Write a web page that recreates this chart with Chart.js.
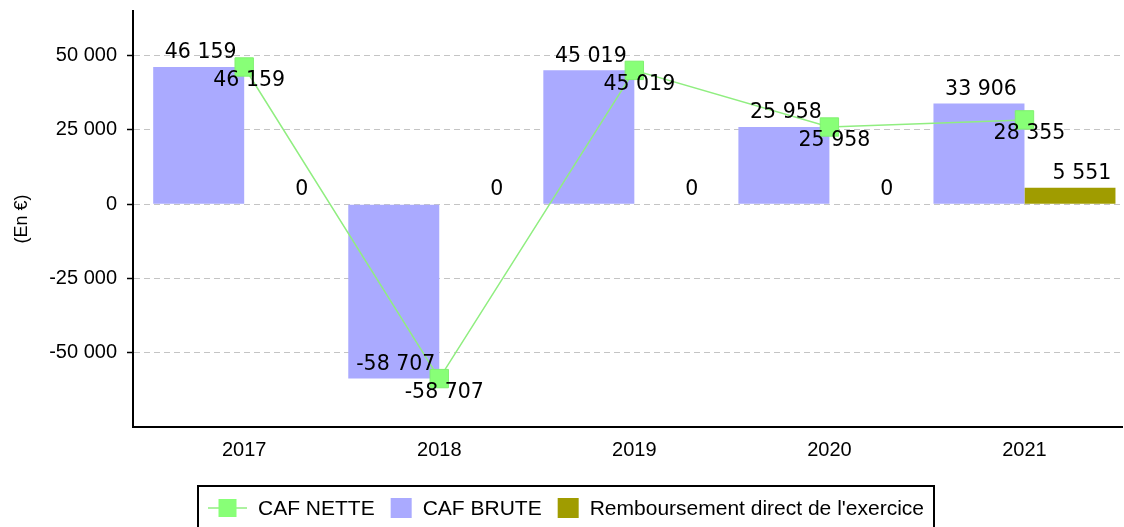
<!DOCTYPE html>
<html lang="fr">
<head>
<meta charset="utf-8">
<title>CAF</title>
<script src="https://cdn.jsdelivr.net/npm/chart.js@4.4.1/dist/chart.umd.min.js"></script>
<style>
  html, body { margin: 0; padding: 0; background: #fff; }
  canvas { display: block; }
</style>
</head>
<body>
<canvas id="cafChart" width="1124" height="527"></canvas>
<script>
// Values
const years = ['2017', '2018', '2019', '2020', '2021'];
const cafNette = [46159, -58707, 45019, 25958, 28355];
const cafBrute = [46159, -58707, 45019, 25958, 33906];
const remboursement = [0, 0, 0, 0, 5551];
const yTicks = [-50000, -25000, 0, 25000, 50000];
const yMin = -75000;
const yMax = 65000;

const tickFont = '"Liberation Sans", Arial, sans-serif';
const labelFont = '"DejaVu Sans", sans-serif';

// "50 000" style numbers
function fmt(v) {
    const s = Math.abs(Math.round(v)).toString().replace(/\B(?=(\d{3})+(?!\d))/g, ' ');
    return (v < 0 ? '-' : '') + s;
}

// Value labels next to bars and points
const valueLabels = {
    id: 'valueLabels',
    afterDatasetsDraw(chart) {
        const ctx = chart.ctx;
        ctx.save();
        ctx.font = '20.5px ' + labelFont;
        ctx.fillStyle = '#000';
        ctx.textAlign = 'center';
        ctx.textBaseline = 'middle';
        chart.data.datasets.forEach((ds, i) => {
            const meta = chart.getDatasetMeta(i);
            const [dx, dy] = ds.labelOffset;
            meta.data.forEach((el, j) => {
                ctx.fillText(fmt(ds.data[j]), el.x + dx, el.y + dy);
            });
        });
        ctx.restore();
    }
};

// Legend in a black frame, line icon for the line series
const boxedLegend = {
    id: 'boxedLegend',
    afterDraw(chart) {
        const ctx = chart.ctx;
        const datasets = chart.data.datasets;
        ctx.save();
        ctx.font = '21px ' + tickFont;
        const items = datasets.map(ds => ({
            ds: ds,
            iconW: ds.type === 'line' ? 39 : 21,
            textW: ctx.measureText(ds.label).width
        }));
        const gapIcon = 11, gapItem = 16, pad = 10;
        let contentW = gapItem * (items.length - 1);
        items.forEach(it => { contentW += it.iconW + gapIcon + it.textW; });
        const boxW = contentW + pad * 2;
        const left = (chart.width - boxW) / 2 + 4;
        const top = chart.height - 41;
        const cy = top + 22;

        ctx.strokeStyle = '#000';
        ctx.lineWidth = 2;
        ctx.strokeRect(left, top, boxW, 60);

        let x = left + pad;
        items.forEach(it => {
            const ds = it.ds;
            if (ds.type === 'line') {
                ctx.strokeStyle = ds.borderColor;
                ctx.lineWidth = 1.5;
                ctx.beginPath();
                ctx.moveTo(x, cy);
                ctx.lineTo(x + it.iconW, cy);
                ctx.stroke();
                ctx.fillStyle = ds.pointBackgroundColor;
                ctx.fillRect(x + it.iconW / 2 - 9, cy - 9, 18, 18);
            } else {
                ctx.fillStyle = ds.backgroundColor;
                ctx.fillRect(x, cy - 10, it.iconW, 20);
            }
            x += it.iconW + gapIcon;
            ctx.fillStyle = '#000';
            ctx.textAlign = 'left';
            ctx.textBaseline = 'middle';
            ctx.fillText(ds.label, x, cy + 1);
            x += it.textW + gapItem;
        });
        ctx.restore();
    }
};

Chart.defaults.font.family = tickFont;
Chart.defaults.color = '#000';

const ctx = document.getElementById('cafChart').getContext('2d');
new Chart(ctx, {
    type: 'bar',
    data: {
        labels: years,
        datasets: [
            {
                type: 'line',
                label: 'CAF NETTE',
                data: cafNette,
                borderColor: '#90ee80',
                borderWidth: 1.5,
                pointStyle: 'rect',
                pointRadius: 13,
                pointBackgroundColor: '#88ff77',
                pointBorderColor: '#80f070',
                pointBorderWidth: 1,
                tension: 0,
                fill: false,
                labelOffset: [5, 14]
            },
            {
                label: 'CAF BRUTE',
                data: cafBrute,
                backgroundColor: '#aaaaff',
                borderWidth: 0,
                categoryPercentage: 0.933,
                barPercentage: 1,
                labelOffset: [2, -14]
            },
            {
                label: "Remboursement direct de l'exercice",
                data: remboursement,
                backgroundColor: '#a09c00',
                borderWidth: 0,
                categoryPercentage: 0.933,
                barPercentage: 1,
                labelOffset: [12, -14]
            }
        ]
    },
    options: {
        responsive: false,
        animation: false,
        layout: { autoPadding: false, padding: { top: 11, right: 2, bottom: 60, left: 0 } },
        plugins: {
            legend: { display: false },
            tooltip: { enabled: false }
        },
        scales: {
            x: {
                type: 'linear',
                offset: false,
                min: +years[0] - 0.57,
                max: +years[years.length - 1] + 0.5,
                afterBuildTicks: scale => {
                    scale.ticks = years.map(y => ({ value: +y }));
                },
                afterFit: scale => {
                    scale.height = 40;
                    scale.paddingLeft = 0;
                    scale.paddingRight = 0;
                },
                grid: { display: false, drawTicks: false },
                border: { display: true, color: '#000', width: 2 },
                ticks: {
                    padding: 11,
                    font: { size: 20 },
                    color: '#000',
                    callback: v => String(v)
                }
            },
            y: {
                min: yMin,
                max: yMax,
                afterBuildTicks: scale => {
                    scale.ticks = yTicks.map(v => ({ value: v }));
                },
                afterFit: scale => {
                    scale.width = 133;
                    scale.paddingTop = 0;
                    scale.paddingBottom = 0;
                },
                grid: {
                    color: '#c4c4c4',
                    lineWidth: 1,
                    drawTicks: true,
                    tickLength: 6,
                    tickColor: '#000',
                    tickWidth: 1.5,
                    tickBorderDash: []
                },
                border: { display: true, color: '#000', width: 2, dash: [6, 4] },
                ticks: {
                    padding: 10,
                    font: { size: 20 },
                    color: '#000',
                    callback: v => fmt(v)
                },
                title: {
                    display: true,
                    text: '(En €)',
                    font: { size: 18 },
                    color: '#000',
                    padding: { top: 11, bottom: 0 }
                }
            }
        }
    },
    plugins: [valueLabels, boxedLegend]
});
</script>
</body>
</html>
